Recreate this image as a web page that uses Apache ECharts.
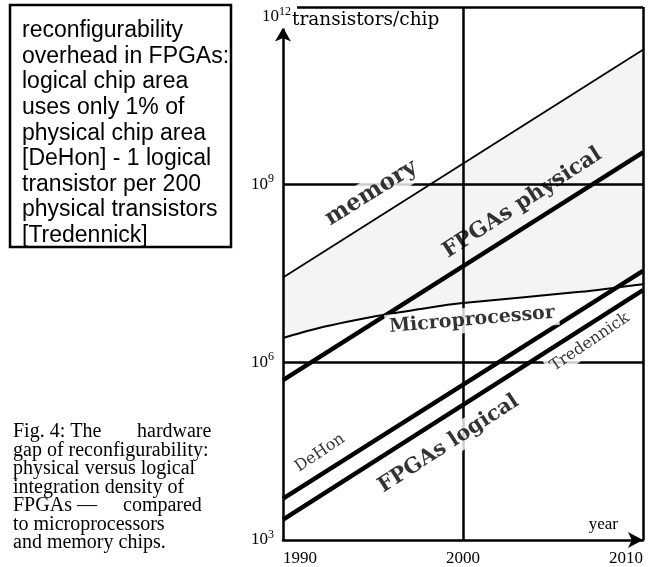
<!DOCTYPE html>
<html><head><meta charset="utf-8">
<script src="https://cdn.jsdelivr.net/npm/echarts@6/dist/echarts.min.js"></script>
<style>html,body{margin:0;padding:0;background:#fff;}#c{width:657px;height:567px;}</style>
</head><body><div id="c"></div>
<script>
// ---- data (transistors per chip) ----
const lineYears = [1990, 2010];
const memory = [2.7e7, 1.9e11];
const fpgaPhysical = [5.0e5, 3.5e9];
const dehon = [5.0e3, 3.5e7];
const tredennick = [2.2e3, 1.66e7];
const microYears = [1990, 1991, 1992, 1993.5, 1995, 1996, 1998, 2000, 2006.5, 2010];
const micro = [2.57e6, 3.16e6, 3.8e6, 4.79e6, 5.89e6, 6.61e6, 8.3e6, 1.0e7, 1.55e7, 2.09e7];
const yAxisArrowTop = 4.5e11;
const xMin = 1990, xMax = 2010, xStep = 10;
const yMin = 1e3, yMax = 1e12;

const labelTexts = ['memory', 'FPGAs physical', 'Microprocessor', 'Tredennick', 'DeHon', 'FPGAs logical'];
const labelYears = [1994.9, 2003.3, 2000.5, 2007.05, 1992.05, 1999.2];
const labelValues = [7.2e8, 4.9e8, 5.2e6, 2.2e6, 2.95e4, 4.2e4];
const labelAngles = [32, 33, 5, 34, 34, 33];
const labelBold = [true, true, true, false, false, true];
const labelSizes = [23, 21.5, 19, 16, 16, 21];
const labelBg = [true, false, true, true, false, true];

const boxText = ['reconfigurability', 'overhead in FPGAs:', 'logical chip area', 'uses only 1% of',
  'physical chip area', '[DeHon] - 1 logical', 'transistor per 200', 'physical transistors', '[Tredennick]'];
const captionLines = [['Fig. 4: The', 'hardware'], ['gap of reconfigurability:'], ['physical versus logical'],
  ['integration density of'], ['FPGAs \u2014', 'compared'], ['to microprocessors'], ['and memory chips.']];

const pairs = (xs, ys) => xs.map((x, i) => [x, ys[i]]);
const exp10 = v => Math.round(Math.log10(v));

const chart = echarts.init(document.getElementById('c'), null, {renderer: 'canvas'});
const serif = '"DejaVu Serif", serif';
const times = '"Liberation Serif", "Times New Roman", serif';

const thinLine = (name, data, w, extra) => Object.assign({
  type: 'line', name, data, showSymbol: false, symbol: 'none', z: 3,
  lineStyle: {color: '#000', width: w}, silent: true, animation: false
}, extra || {});

const option = {
  animation: false,
  backgroundColor: '#fff',
  grid: {left: 283, right: 14, top: 7, bottom: 27},
  xAxis: {
    type: 'value', min: xMin, max: xMax, interval: xStep, z: 1,
    axisLine: {show: true, symbol: ['none', 'arrow'], symbolSize: [12, 15], lineStyle: {color: '#000', width: 2.5}},
    axisTick: {show: false},
    axisLabel: {fontFamily: times, fontSize: 17, color: '#000', margin: 10, alignMinLabel: 'left', alignMaxLabel: 'right',
      formatter: v => String(v)},
    splitLine: {show: true, showMinLine: false, lineStyle: {color: '#000', width: 2.5}}
  },
  yAxis: {
    type: 'log', logBase: 10, min: yMin, max: yMax, interval: 3, z: 1,
    axisLine: {show: false},
    axisTick: {show: false},
    axisLabel: {
      margin: 9,
      formatter: v => { const e = exp10(v); return e === 12 ? '' : '{b|10}{s|' + e + '}'; },
      rich: {
        b: {fontFamily: times, fontSize: 17, color: '#000'},
        s: {fontFamily: times, fontSize: 12, color: '#000', padding: [0, 0, 11, 0]}
      }
    },
    splitLine: {show: true, showMinLine: false, lineStyle: {color: '#000', width: 2.5}}
  },
  series: [
    {
      type: 'custom', name: 'gap', z: 0, silent: true,
      data: [[xMin, yMin]],
      renderItem: (params, api) => {
        const pts = [];
        pairs(lineYears, memory).forEach(p => pts.push(api.coord(p)));
        pairs(microYears, micro).reverse().forEach(p => pts.push(api.coord(p)));
        return {type: 'polygon', shape: {points: pts}, style: {fill: '#f4f4f4'}};
      }
    },
    thinLine('memory', pairs(lineYears, memory), 1.8),
    thinLine('microprocessor', pairs(microYears, micro), 2, {smooth: 0.3}),
    thinLine('FPGAs physical', pairs(lineYears, fpgaPhysical), 4.5),
    thinLine('DeHon', pairs(lineYears, dehon), 4.5),
    thinLine('Tredennick', pairs(lineYears, tredennick), 4.5, {
      markLine: {
        silent: true, symbol: ['none', 'arrow'], symbolSize: [12, 14], animation: false,
        label: {show: false},
        lineStyle: {color: '#000', width: 2.5, type: 'solid'},
        data: [[{coord: [xMin, yMin]}, {coord: [xMin, yAxisArrowTop]}]]
      }
    }),
    {
      type: 'scatter', name: 'labels', z: 5, silent: true, symbolSize: 1,
      itemStyle: {color: 'rgba(0,0,0,0)'},
      data: labelTexts.map((t, i) => ({
        value: [labelYears[i], labelValues[i]],
        label: {
          show: true, position: 'inside', formatter: t, rotate: labelAngles[i],
          fontFamily: serif, fontSize: labelSizes[i], fontWeight: labelBold[i] ? 'bold' : 'normal',
          color: '#000', align: 'center', verticalAlign: 'middle',
          backgroundColor: labelBg[i] ? '#fff' : 'transparent', padding: [3, 4]
        }
      }))
    }
  ]
};
chart.setOption(option);

const topPt = chart.convertToPixel({gridIndex: 0}, [xMin, yMax]);
const endPt = chart.convertToPixel({gridIndex: 0}, [xMax, yMin]);
const graphics = [
  {type: 'text', z: 10, x: topPt[0] + 8, y: topPt[1] + 10,
   style: {text: '{b|10}{s|12}', align: 'right', verticalAlign: 'middle', backgroundColor: '#fff', padding: [0, 0, 0, 0],
     rich: {b: {fontFamily: times, fontSize: 17, fill: '#000'}, s: {fontFamily: times, fontSize: 12, fill: '#000', padding: [0, 0, 11, 0]}}}},
  {type: 'rect', z: 9, shape: {x: topPt[0] - 2, y: topPt[1] - 3, width: 16, height: 6}, style: {fill: '#fff'}},
  {type: 'text', z: 10, x: topPt[0] + 9, y: topPt[1] + 13,
   style: {text: 'transistors/chip', fontFamily: serif, fontSize: 18.5, fill: '#000', align: 'left', verticalAlign: 'middle'}},
  {type: 'text', z: 10, x: endPt[0] - 25, y: endPt[1] - 15,
   style: {text: 'year', fontFamily: times, fontSize: 17, fill: '#000', align: 'right', verticalAlign: 'middle'}},
  {type: 'rect', z: 10, shape: {x: 10, y: 5, width: 221, height: 242},
   style: {fill: '#fff', stroke: '#000', lineWidth: 2.5}},
  {type: 'text', z: 11, x: 22, y: 18,
   style: {text: boxText.join('\n'), fontFamily: '"Liberation Sans", Arial, sans-serif', fontSize: 23,
     lineHeight: 25.6, fill: '#000', align: 'left', verticalAlign: 'top'}}
];
const capX2 = [137, null, null, null, 123, null, null];
captionLines.forEach((parts, i) => {
  const y = 432 + i * 18.5;
  graphics.push({type: 'text', z: 10, x: 13, y,
    style: {text: parts[0], fontFamily: times, fontSize: 20, fill: '#000', align: 'left', verticalAlign: 'middle'}});
  if (parts[1]) graphics.push({type: 'text', z: 10, x: capX2[i], y,
    style: {text: parts[1], fontFamily: times, fontSize: 20, fill: '#000', align: 'left', verticalAlign: 'middle'}});
});
chart.setOption({graphic: graphics});
</script></body></html>
